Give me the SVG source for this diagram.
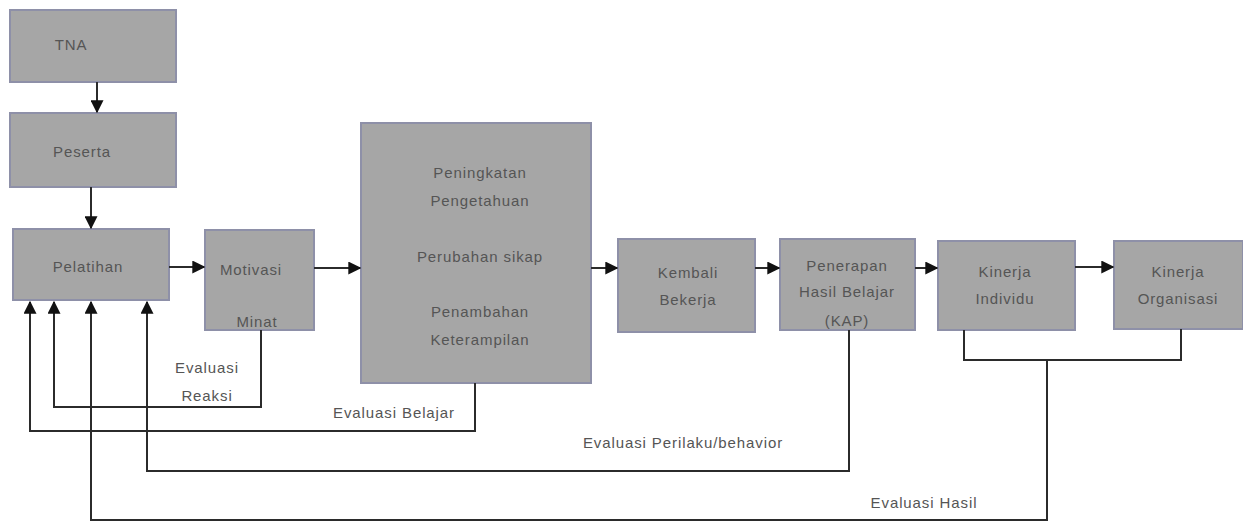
<svg xmlns="http://www.w3.org/2000/svg" width="1243" height="523" viewBox="0 0 1243 523">
<style>
.box{fill:#a6a6a6;stroke:#8e90a8;stroke-width:2}
.t{font-family:"Liberation Sans",Arial,sans-serif;font-size:15px;fill:#555;text-anchor:middle;letter-spacing:0.9px}
.c{fill:none;stroke:#2b2b2b;stroke-width:2}
.a{fill:none;stroke:#2b2b2b;stroke-width:2;marker-end:url(#ah)}
</style>
<defs>
<marker id="ah" viewBox="0 0 10 10" refX="9" refY="5" markerWidth="6.5" markerHeight="6.5" markerUnits="strokeWidth" orient="auto">
<path d="M0,0 L10,5 L0,10 z" fill="#111"/>
</marker>
</defs>
<rect width="1243" height="523" fill="#fff"/>
<g id="tna"><rect class="box" x="10" y="10" width="166" height="72"/><text class="t" x="71" y="50">TNA</text></g>
<g id="peserta"><rect class="box" x="10" y="113" width="166" height="74"/><text class="t" x="82" y="157">Peserta</text></g>
<g id="pelatihan"><rect class="box" x="13" y="229" width="156" height="71"/><text class="t" x="88" y="272">Pelatihan</text></g>
<g id="motivasi"><rect class="box" x="205" y="230" width="109" height="100"/><text class="t" x="251" y="275">Motivasi</text><text class="t" x="257" y="327">Minat</text></g>
<g id="hasil"><rect class="box" x="361" y="123" width="230" height="260"/>
<text class="t" x="480" y="178">Peningkatan</text>
<text class="t" x="480" y="206">Pengetahuan</text>
<text class="t" x="480" y="262">Perubahan sikap</text>
<text class="t" x="480" y="317">Penambahan</text>
<text class="t" x="480" y="345">Keterampilan</text></g>
<g id="kembali"><rect class="box" x="618" y="239" width="137" height="93"/><text class="t" x="688" y="278">Kembali</text><text class="t" x="688" y="305">Bekerja</text></g>
<g id="penerapan"><rect class="box" x="780" y="239" width="135" height="91"/><text class="t" x="847" y="271">Penerapan</text><text class="t" x="847" y="297">Hasil Belajar</text><text class="t" x="847" y="326">(KAP)</text></g>
<g id="individu"><rect class="box" x="938" y="241" width="137" height="89"/><text class="t" x="1005" y="277">Kinerja</text><text class="t" x="1005" y="304">Individu</text></g>
<g id="organisasi"><rect class="box" x="1114" y="241" width="129" height="88"/><text class="t" x="1178" y="277">Kinerja</text><text class="t" x="1178" y="304">Organisasi</text></g>
<g id="connectors">
<path class="a" d="M97,82 V112"/>
<path class="a" d="M91,187 V228"/>
<path class="a" d="M169,267 H204"/>
<path class="a" d="M314,268 H360"/>
<path class="a" d="M591,268 H617"/>
<path class="a" d="M755,268 H779"/>
<path class="a" d="M915,268 H937"/>
<path class="a" d="M1075,267 H1113"/>
<path class="a" d="M261,330 V407 H54 V302"/>
<path class="a" d="M475,383 V431 H30 V302"/>
<path class="a" d="M849,330 V471 H147 V302"/>
<path class="c" d="M964,330 V360 H1181 V329"/>
<path class="a" d="M1047,360 V520 H91 V302"/>
</g>
<g id="labels">
<text class="t" x="207" y="373">Evaluasi</text>
<text class="t" x="207" y="401">Reaksi</text>
<text class="t" x="394" y="418">Evaluasi Belajar</text>
<text class="t" x="683" y="448">Evaluasi Perilaku/behavior</text>
<text class="t" x="924" y="508">Evaluasi Hasil</text>
</g>
</svg>
